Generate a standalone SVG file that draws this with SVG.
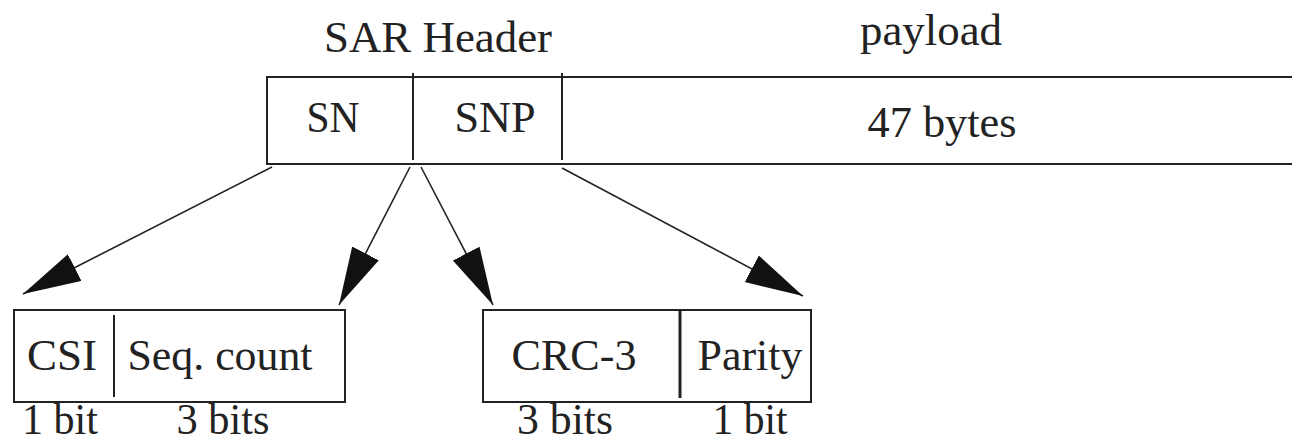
<svg xmlns="http://www.w3.org/2000/svg" width="1292" height="444" viewBox="0 0 1292 444">
<style>
text{font-family:"Liberation Serif","DejaVu Serif",serif;font-size:44px;fill:#222;text-anchor:middle}
.b{fill:none;stroke:#222;stroke-width:2}
.c{stroke:#222;stroke-width:1.6;fill:none}
</style>
<defs>
<marker id="ah" markerUnits="userSpaceOnUse" markerWidth="60" markerHeight="32" refX="58" refY="15" orient="auto" viewBox="0 0 60 32">
<path d="M0,0 L58,15 L0,30 z" fill="#111"/>
</marker>
</defs>
<rect width="1292" height="444" fill="#fff"/>
<g id="labels">
<text x="438" y="52" textLength="228" lengthAdjust="spacingAndGlyphs">SAR Header</text>
<text x="931" y="45" textLength="142" lengthAdjust="spacingAndGlyphs">payload</text>
</g>
<g id="cell-top">
<path class="b" d="M1292,77 H267 V164 H1292"/>
<line class="b" x1="413" y1="73" x2="413" y2="160"/>
<line class="b" x1="562" y1="73" x2="562" y2="160"/>
<text x="333" y="132" textLength="53" lengthAdjust="spacingAndGlyphs">SN</text>
<text x="495" y="132" textLength="81" lengthAdjust="spacingAndGlyphs">SNP</text>
<text x="942" y="137" textLength="149" lengthAdjust="spacingAndGlyphs">47 bytes</text>
</g>
<g id="sn-box">
<rect class="b" x="14" y="310" width="331" height="92"/>
<line class="b" x1="114" y1="315" x2="114" y2="397"/>
<text x="62" y="370" textLength="70" lengthAdjust="spacingAndGlyphs">CSI</text>
<text x="220" y="370" textLength="185" lengthAdjust="spacingAndGlyphs">Seq. count</text>
<text x="60" y="434" textLength="76" lengthAdjust="spacingAndGlyphs">1 bit</text>
<text x="223" y="434" textLength="93" lengthAdjust="spacingAndGlyphs">3 bits</text>
</g>
<g id="snp-box">
<rect class="b" x="483" y="310" width="328" height="92"/>
<line x1="680" y1="310" x2="680" y2="398" stroke="#222" stroke-width="3"/>
<text x="574" y="370" textLength="125" lengthAdjust="spacingAndGlyphs">CRC-3</text>
<text x="750" y="370" textLength="105" lengthAdjust="spacingAndGlyphs">Parity</text>
<text x="565" y="434" textLength="96" lengthAdjust="spacingAndGlyphs">3 bits</text>
<text x="750" y="434" textLength="75" lengthAdjust="spacingAndGlyphs">1 bit</text>
</g>
<g id="connectors">
<line class="c" x1="272" y1="167" x2="23" y2="294" marker-end="url(#ah)"/>
<line class="c" x1="410" y1="167" x2="339" y2="305" marker-end="url(#ah)"/>
<line class="c" x1="421" y1="167" x2="493" y2="305" marker-end="url(#ah)"/>
<line class="c" x1="562" y1="168" x2="803" y2="296" marker-end="url(#ah)"/>
</g>
</svg>
